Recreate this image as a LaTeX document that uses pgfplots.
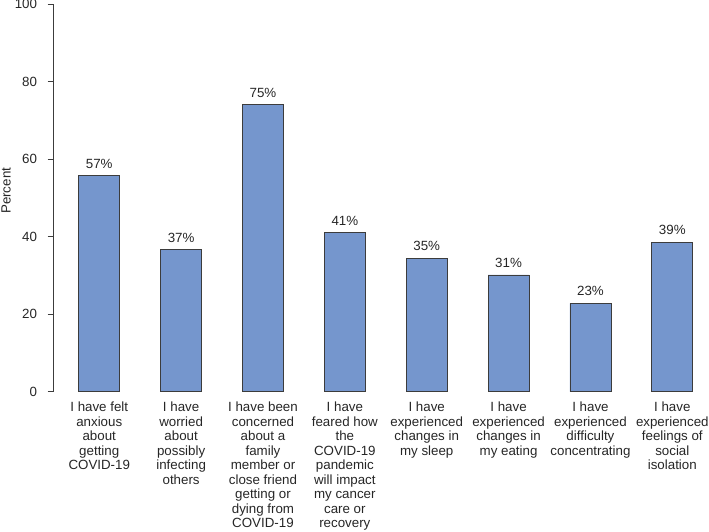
\documentclass[border=0pt]{standalone}
\usepackage{pgfplots}
\pgfplotsset{compat=1.18}
\usepackage{fontspec}
\setmainfont{Liberation Sans}
\definecolor{barblue}{RGB}{117,150,205}
\definecolor{edgegray}{RGB}{60,60,60}
\begin{document}
\begin{tikzpicture}[x=1pt,y=1pt]
\path[use as bounding box] (0,0) rectangle (531.75,398.25);
\begin{axis}[
  at={(40pt,104.5pt)}, anchor=south west,
  scale only axis, width=491.8pt, height=290.8pt,
  xmin=0.439, xmax=8.449, ymin=0, ymax=100,
  axis lines=left,
  x axis line style={draw=none},
  axis line style={edgegray, line width=0.6pt, -},
  y axis line style={edgegray, -},
  ytick={0,20,40,60,80,100},
  tick align=outside,
  ytick style={edgegray, line width=0.6pt},
  major tick length=4.2pt,
  xtick={1,2,3,4,5,6,7,8},
  xtick style={draw=none},
  xticklabels={{I have felt\\anxious\\about\\getting\\COVID-19},
    {I have\\worried\\about\\possibly\\infecting\\others},
    {I have been\\concerned\\about a\\family\\member or\\close friend\\getting or\\dying from\\COVID-19},
    {I have\\feared how\\the\\COVID-19\\pandemic\\will impact\\my cancer\\care or\\recovery},
    {I have\\experienced\\changes in\\my sleep},
    {I have\\experienced\\changes in\\my eating},
    {I have\\experienced\\difficulty\\concentrating},
    {I have\\experienced\\feelings of\\social\\isolation}},
  xticklabel style={align=center, font=\fontsize{10}{10.9}\selectfont, text=black!85, yshift=0pt},
  yticklabel style={font=\fontsize{10}{12}\selectfont, text=black!85, xshift=-4.5pt},
  /pgf/number format/assume math mode=true,
  ylabel={Percent},
  ylabel style={font=\fontsize{10}{12}\selectfont, text=black!85, at={(rel axis cs:-0.072,0.518)}, anchor=center, rotate=0},
  clip=false,
  nodes near coords={\pgfplotspointmeta\%},
  point meta=explicit symbolic,
  nodes near coords style={font=\fontsize{10}{12}\selectfont, text=black!85, anchor=south, yshift=2pt},
]
\addplot[ybar, bar width=0.5, fill=barblue, draw=edgegray, line width=0.6pt] table[meta=lab] {
x y lab
1 55.7 57
2 36.6 37
3 74.0 75
4 41.0 41
5 34.4 35
6 30.1 31
7 22.8 23
8 38.5 39
};
\end{axis}
\end{tikzpicture}
\end{document}
